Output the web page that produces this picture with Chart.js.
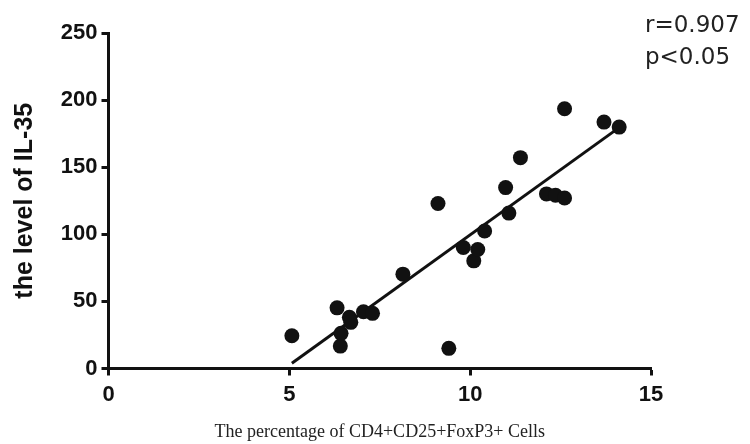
<!DOCTYPE html>
<html>
<head>
<meta charset="utf-8">
<script src="https://cdn.jsdelivr.net/npm/chart.js@4.4.0/dist/chart.umd.min.js"></script>
<style>
  html, body { margin: 0; padding: 0; background: #fff; }
  #wrap { width: 750px; height: 444px; position: relative; }
</style>
</head>
<body>
<div id="wrap"><canvas id="chart"></canvas></div>
<script>
// values
const cellPct = [5.07, 6.41, 6.43, 6.32, 6.66, 6.70, 7.05, 7.30, 8.14, 9.11, 9.41, 9.81,
  10.10, 10.21, 10.40, 10.98, 11.07, 11.39, 12.11, 12.36, 12.61, 12.61, 13.70, 14.12];
const il35 = [24.4, 16.7, 26.2, 45.2, 38.1, 34.4, 42.3, 41.1, 70.3, 122.9, 15.0, 90.2,
  80.2, 88.7, 102.5, 134.8, 115.8, 157.1, 130.1, 129.1, 127.1, 193.6, 183.6, 179.9];

// regression line end points
const fitX = [5.07, 14.04];
const fitY = [3.9, 178];

const statsText = ["r=0.907", "p<0.05"];

const xTitle = "The percentage of CD4+CD25+FoxP3+ Cells";
const yTitle = "the level of IL-35";

const points = cellPct.map((x, i) => ({ x: x, y: il35[i] }));
const fitLine = fitX.map((x, i) => ({ x: x, y: fitY[i] }));

// draws the r / p text in the top right corner
const statsPlugin = {
  id: "stats",
  afterDraw(chart) {
    const ctx = chart.ctx;
    ctx.save();
    ctx.fillStyle = "#222";
    ctx.font = "23px 'DejaVu Sans'";
    ctx.textAlign = "left";
    ctx.textBaseline = "alphabetic";
    ctx.fillText(statsText[0], 645, 32);
    ctx.fillText(statsText[1], 645, 64);
    ctx.restore();
  },
};

const axisColor = "#111";
const tickFont = { family: "'Liberation Sans', Arial, sans-serif", size: 22, weight: "bold" };

new Chart(document.getElementById("chart"), {
  type: "scatter",
  data: {
    datasets: [
      {
        data: points,
        backgroundColor: "#111",
        borderWidth: 0,
        pointRadius: 7.5,
        pointHoverRadius: 7.5,
        order: 1,
      },
      {
        type: "line",
        data: fitLine,
        borderColor: "#111",
        borderWidth: 3,
        pointRadius: 0,
        fill: false,
        order: 2,
      },
    ],
  },
  options: {
    responsive: true,
    maintainAspectRatio: false,
    animation: false,
    devicePixelRatio: 1,
    layout: {
      padding: { top: 33, right: 99, bottom: 0, left: 0 },
    },
    plugins: {
      legend: { display: false },
      tooltip: { enabled: false },
    },
    scales: {
      x: {
        type: "linear",
        min: 0,
        max: 15,
        afterFit: (scale) => { scale.height = 75.5; },
        border: { display: true, color: axisColor, width: 3 },
        grid: {
          drawOnChartArea: false,
          drawTicks: true,
          tickLength: 7,
          tickWidth: 3,
          tickColor: axisColor,
        },
        ticks: {
          stepSize: 5,
          padding: 6,
          color: "#111",
          font: tickFont,
        },
        title: {
          display: true,
          text: xTitle,
          color: "#222",
          padding: { top: 0, bottom: 1 },
          font: { family: "'Liberation Serif'", size: 18 },
        },
      },
      y: {
        type: "linear",
        min: 0,
        max: 250,
        afterFit: (scale) => { scale.width = 108.5; },
        border: { display: true, color: axisColor, width: 3 },
        grid: {
          drawOnChartArea: false,
          drawTicks: true,
          tickLength: 7,
          tickWidth: 3,
          tickColor: axisColor,
        },
        ticks: {
          stepSize: 50,
          padding: 4,
          color: "#111",
          font: tickFont,
        },
        title: {
          display: true,
          text: yTitle,
          color: "#111",
          padding: { top: 10, bottom: 0 },
          font: { family: "'Liberation Sans', Arial, sans-serif", size: 25, weight: "bold" },
        },
      },
    },
  },
  plugins: [statsPlugin],
});
</script>
</body>
</html>
